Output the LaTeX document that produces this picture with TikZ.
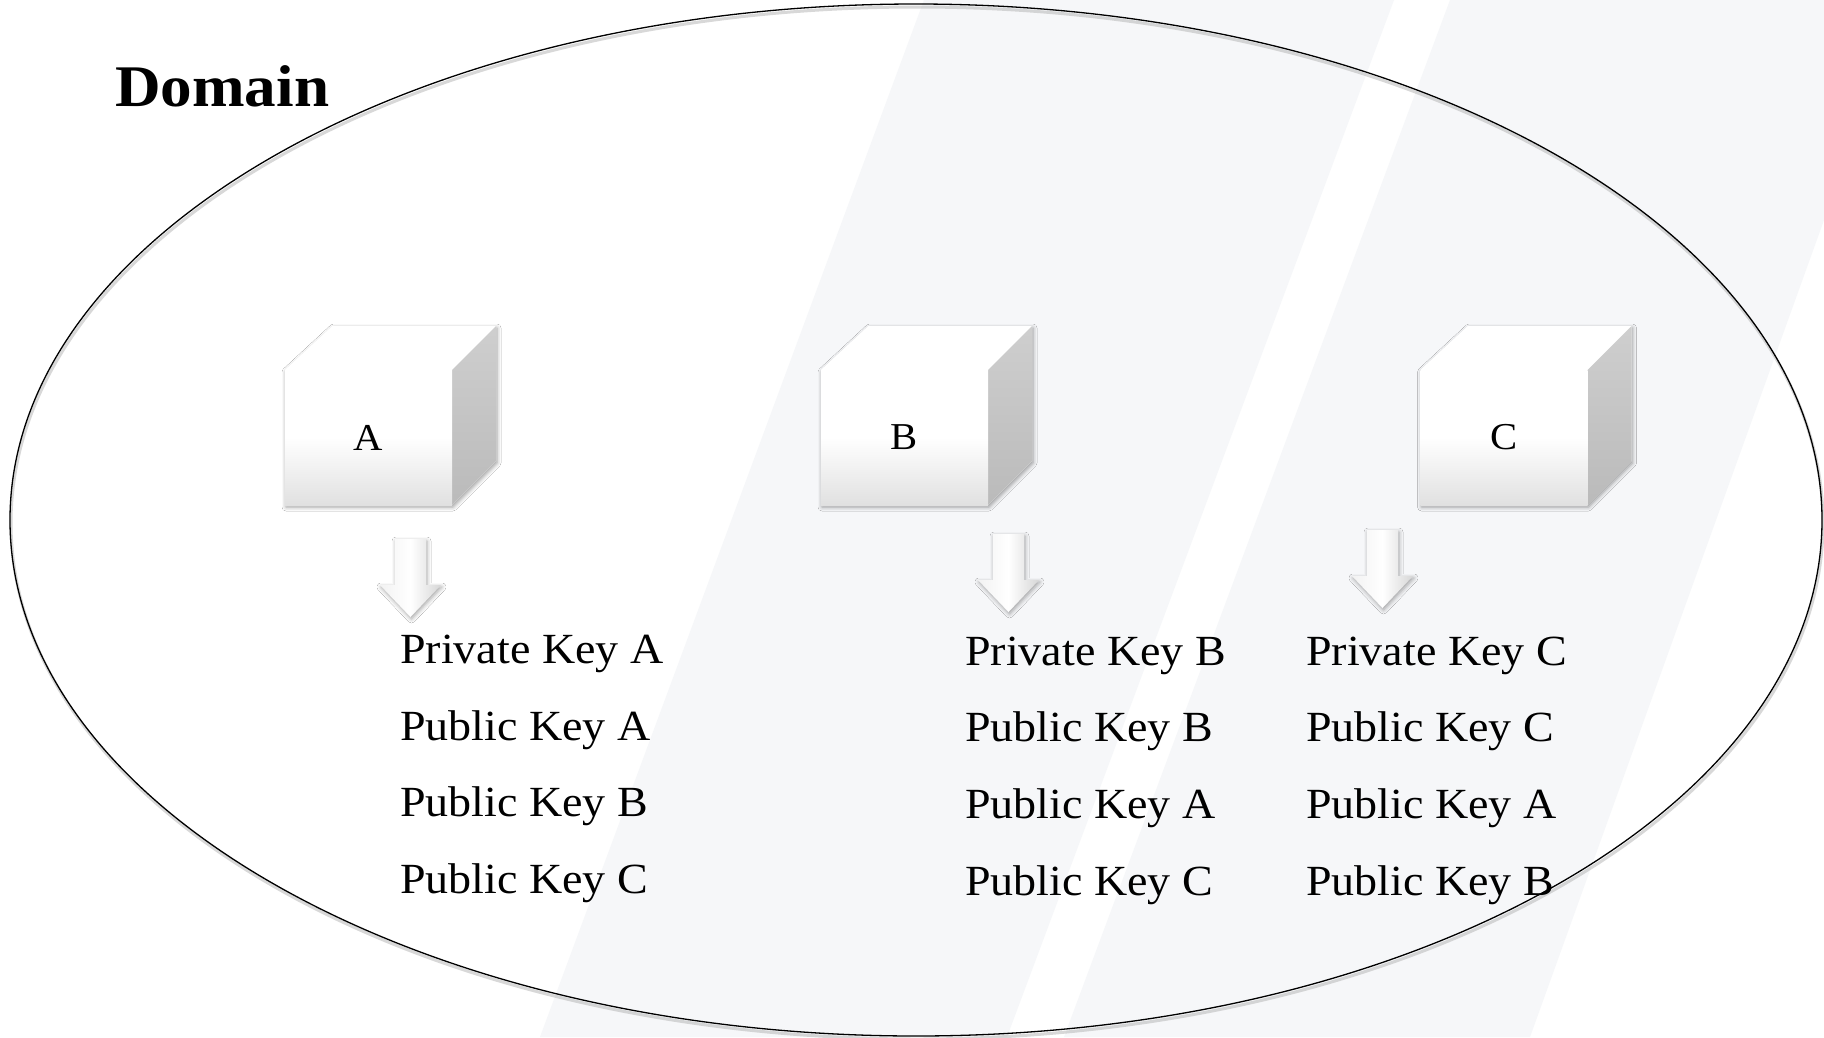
\documentclass[tikz,border=0pt]{standalone}
\usepackage{fontspec}
\setmainfont{Liberation Serif}[FakeStretch=1.07]
\usetikzlibrary{shadows.blur}
\definecolor{stripegray}{RGB}{246,247,249}
\newcommand*\kfont{\fontsize{43}{48}\selectfont}
\newcommand*\cfont{\fontsize{38}{42}\selectfont}
\newcommand*\dfont{\fontsize{59}{64}\selectfont\bfseries}
\tikzset{
  stripe/.style={fill=stripegray, draw=none},
  cubefront/.style={minimum width=167pt, minimum height=135pt, inner sep=0pt,
    top color=white, bottom color=black!12, middle color=white, font=\cfont},
  cubetop/.style={fill=white},
  cuberight/.style={top color=black!19, bottom color=black!27},
  cubeshadow/.style={fill=white, blur shadow={shadow xshift=1pt, shadow yshift=-2pt,
    shadow blur radius=4pt, shadow opacity=40}},
  arrowbody/.style={left color=black!5, right color=black!16, middle color=white,
    blur shadow={shadow xshift=1pt, shadow yshift=-2pt, shadow blur radius=4pt, shadow opacity=35}},
  keytext/.style={anchor=base west, inner sep=0pt, font=\kfont},
  pics/keycube/.style={code={
    \path[cubeshadow] (-83.5,67.5) -- (-83.5,-67.5) -- (-36,-111.5) -- (127.5,-111.5)
      -- (127.5,23.5) -- (83.5,67.5) -- cycle;
    \path[cubetop] (-83.5,-67.5) -- (-36,-111.5) -- (127.5,-111.5) -- (83.5,-67.5) -- cycle;
    \path[cuberight] (83.5,-67.5) -- (127.5,-111.5) -- (127.5,23.5) -- (83.5,67.5) -- cycle;
    \node[cubefront] (-front) at (0,0) {#1};
  }},
  pics/blockarrow/.style={code={
    \path[arrowbody] (-15.5,0) -- (15.5,0) -- (15.5,46) -- (30.5,46) -- (0,78)
      -- (-30.5,46) -- (-15.5,46) -- cycle;
  }}
}
\begin{document}
\begin{tikzpicture}[x=1pt,y=-1pt]
\useasboundingbox (0,0) rectangle (1824,1037);
\fill[white] (0,0) rectangle (1824,1037);
% background stripes
\path[stripe] (924,0) -- (1394,0) -- (1007,1037) -- (540,1037) -- cycle;
\path[stripe] (1450,0) -- (1824,0) -- (1824,220) -- (1530,1037) -- (1064,1037) -- cycle;
% domain ellipse
\draw[black!30, line width=3pt, opacity=0.5] (917,523) ellipse [x radius=906, y radius=516];
\draw[line width=1.3pt] (916,520) ellipse [x radius=906, y radius=516];
\node[anchor=base west, inner sep=0pt, font=\dfont] (domain) at (115,106) {Domain};
% cubes
\pic (A) at (368.5,437.5) {keycube=A};
\pic (B) at (904.5,437.5) {keycube=B};
\pic (C) at (1504,437.5) {keycube=C};
% arrows
\pic (arrA) at (410.5,539) {blockarrow};
\pic (arrB) at (1008.5,534) {blockarrow};
\pic (arrC) at (1382.5,530) {blockarrow};
% key lists
\node[keytext] (a1) at (400,663) {Private Key A};
\node[keytext] (a2) at (400,740) {Public Key A};
\node[keytext] (a3) at (400,816) {Public Key B};
\node[keytext] (a4) at (400,893) {Public Key C};
\node[keytext] (b1) at (965,665) {Private Key B};
\node[keytext] (b2) at (965,741) {Public Key B};
\node[keytext] (b3) at (965,818) {Public Key A};
\node[keytext] (b4) at (965,895) {Public Key C};
\node[keytext] (c1) at (1306,665) {Private Key C};
\node[keytext] (c2) at (1306,741) {Public Key C};
\node[keytext] (c3) at (1306,818) {Public Key A};
\node[keytext] (c4) at (1306,895) {Public Key B};
\end{tikzpicture}
\end{document}
